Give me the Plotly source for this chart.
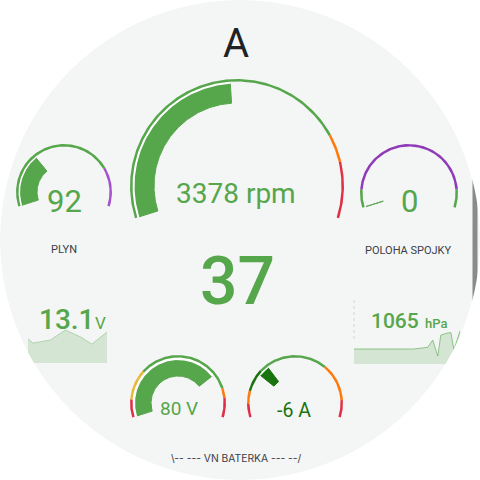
import numpy as np
import plotly.graph_objects as go

GREEN = "#56A64B"
DARK_GREEN = "#19730E"
ORANGE = "#FF780A"
RED = "#E02F44"
YELLOW = "#EAB839"
PURPLE = "#A352CC"
DARK_PURPLE = "#8F3BB8"
TEXT = "#202226"
LABEL = "#3b4048"

# ---------------- data ----------------
title_text = "A"
speed_value = 37

rpm_value = 3378
rpm_range = [0, 7000]
rpm_steps = [0, 5500, 6000]
rpm_colors = [GREEN, ORANGE, RED]

throttle_label = "PLYN"
throttle_value = 92
throttle_range = [0, 290]
throttle_steps = [0, 225]
throttle_colors = [GREEN, PURPLE]

clutch_label = "POLOHA SPOJKY"
clutch_value = 0
clutch_range = [0, 100]
clutch_steps = [0, 10, 90]
clutch_colors = [GREEN, DARK_PURPLE, GREEN]

hv_label = "\\-- --- VN BATERKA --- --/"
hv_voltage_value = 80
hv_voltage_range = [0, 108]
hv_voltage_steps = [0, 11, 30, 90, 96]
hv_voltage_colors = [RED, YELLOW, GREEN, ORANGE, RED]

hv_current_value = -6
hv_current_range = [-30, 62]
hv_current_steps = [-30, -23, -16, -4, 33, 53]
hv_current_colors = [RED, ORANGE, DARK_GREEN, GREEN, ORANGE, RED]

lv_time = [0, 5, 22, 37, 52, 63, 78]
lv_voltage = [13.03, 12.99, 13.02, 13.12, 13.05, 12.98, 13.10]
lv_value_text = "13.1"

pressure_time = [0, 15, 30, 45, 59, 73, 78, 83, 86, 92, 96, 99, 105]
pressure = [1000, 1000, 1000, 1000, 1000, 1006, 1032, 975, 1050, 1057, 1059, 996, 1065]

# ---------------- geometry ----------------
START = 197.5
SWEEP = 215.0


def ang(v, lo, hi):
    return START - (v - lo) / (hi - lo) * SWEEP


def band(cx, cy, r0, r1, a0, a1):
    n = max(2, int(abs(a1 - a0) * 2) + 2)
    t = np.radians(np.linspace(a0, a1, n))
    xo = cx + r1 * np.cos(t)
    yo = cy - r1 * np.sin(t)
    xi = cx + r0 * np.cos(t[::-1])
    yi = cy - r0 * np.sin(t[::-1])
    return np.concatenate([xo, xi, xo[:1]]), np.concatenate([yo, yi, yo[:1]])


fig = go.Figure()


def add_poly(xs, ys, color, lw=0):
    fig.add_trace(go.Scatter(x=xs, y=ys, mode="lines", fill="toself",
                             fillcolor=color, line=dict(color=color, width=lw),
                             hoverinfo="skip", showlegend=False))


# scrollbar-like strip at the right edge of the face
add_poly([472.5, 477.5, 477.5, 472.5, 472.5], [150, 150, 330, 330, 150], "#8a8a8a")


def gauge(value, rng, steps, colors, cx, cy, bar_in, bar_out, arc_in, arc_out):
    lo, hi = rng
    base = 0 if lo < 0 < hi else lo
    idx = max(i for i, s in enumerate(steps) if value >= s)
    vcol = colors[idx]
    a0, a1 = ang(base, lo, hi), ang(value, lo, hi)
    xs, ys = band(cx, cy, bar_in, bar_out, a0, a1)
    add_poly(xs, ys, vcol, lw=1)
    if abs(a1 - a0) > 0.5:
        xs, ys = band(cx, cy, bar_out, arc_in, a0, a1)
        add_poly(xs, ys, "#ffffff")
    edges = steps[1:] + [hi]
    for s, e, c in zip(steps, edges, colors):
        xs, ys = band(cx, cy, arc_in, arc_out, ang(s, lo, hi), ang(e, lo, hi))
        add_poly(xs, ys, c)
    return vcol


gauge(rpm_value, rpm_range, rpm_steps, rpm_colors, 237, 186, 83, 102.5, 104.5, 107)
gauge(throttle_value, throttle_range, throttle_steps, throttle_colors, 64, 192, 27, 44, 45.5, 48)
gauge(clutch_value, clutch_range, clutch_steps, clutch_colors, 409, 193, 27, 45, 46.5, 49)
gauge(hv_voltage_value, hv_voltage_range, hv_voltage_steps, hv_voltage_colors, 178, 403, 27, 43, 45.5, 48)
cur_col = gauge(hv_current_value, hv_current_range, hv_current_steps, hv_current_colors, 295, 403, 27, 44, 45.5, 48)

# sparklines
fig.add_trace(go.Scatter(x=lv_time, y=lv_voltage, mode="lines", fill="tozeroy",
                         fillcolor="rgba(86,166,75,0.2)",
                         line=dict(color="rgba(86,166,75,0.35)", width=1),
                         xaxis="x2", yaxis="y2", hoverinfo="skip", showlegend=False))
fig.add_trace(go.Scatter(x=pressure_time, y=pressure, mode="lines", fill="tozeroy",
                         fillcolor="rgba(86,166,75,0.2)",
                         line=dict(color="rgba(86,166,75,0.6)", width=1),
                         xaxis="x3", yaxis="y3", hoverinfo="skip", showlegend=False))

# mask outside the round face
t = np.linspace(0, 2 * np.pi, 721)
circ = " ".join(f"L{240 + 240 * np.cos(a):.2f},{240 + 240 * np.sin(a):.2f}" for a in t[1:])
mask_path = "M0,0 L480,0 L480,480 L0,480 Z M480,240 " + circ + " Z"

shapes = [
    dict(type="circle", xref="x", yref="y", x0=0, y0=0, x1=480, y1=480,
         fillcolor="#f4f5f5", line=dict(width=0), layer="below"),
    dict(type="line", xref="x", yref="y", x0=354, x1=354, y0=300, y1=340,
         line=dict(color="#d2d4d6", width=1, dash="dot"), layer="below"),
    dict(type="path", xref="x", yref="y", path=mask_path, fillcolor="#ffffff",
         fillrule="evenodd", line=dict(width=0), layer="above"),
]

F = "Roboto"


def txt(x, y, s, size, color, weight=400, family=F):
    return dict(x=x, y=y, xref="x", yref="y", text=s, showarrow=False,
                xanchor="center", yanchor="middle",
                font=dict(family=family, size=size, color=color, weight=weight))


annotations = [
    txt(236, 43, title_text, 40, TEXT),
    txt(236, 193, f"{rpm_value} rpm", 28, GREEN),
    txt(64, 201, f"{throttle_value}", 31, GREEN),
    txt(409.5, 201.5, f"{clutch_value}", 31, GREEN),
    txt(64, 249, throttle_label, 11, LABEL),
    txt(408, 250.5, clutch_label, 11, LABEL),
    txt(237.5, 281.5, f"{speed_value}", 66, GREEN, 500),
    txt(66.5, 319, lv_value_text, 28, GREEN, 500),
    txt(100.5, 323, "V", 17, GREEN, 400),
    txt(395, 320.5, f"{pressure[-1]}", 21, GREEN, 500),
    txt(435.5, 323, "hPa", 13, GREEN, 500),
    txt(179, 408.5, f"{hv_voltage_value} V", 19, GREEN),
    txt(294, 410, f"{hv_current_value} A", 19.5, cur_col),
    txt(236, 457.5, hv_label, 10.3, LABEL, 400, "Inter"),
]

ax_off = dict(visible=False, showgrid=False, zeroline=False, fixedrange=True)
fig.update_layout(
    width=480, height=480, margin=dict(l=0, r=0, t=0, b=0),
    paper_bgcolor="#ffffff", plot_bgcolor="rgba(0,0,0,0)",
    xaxis=dict(range=[0, 480], domain=[0, 1], **ax_off),
    yaxis=dict(range=[480, 0], domain=[0, 1], **ax_off),
    xaxis2=dict(range=[0, 78], domain=[28 / 480, 107 / 480], anchor="y2", **ax_off),
    yaxis2=dict(range=[12.79, 13.42], domain=[1 - 363 / 480, 1 - 300 / 480], anchor="x2", **ax_off),
    xaxis3=dict(range=[0, 105], domain=[354 / 480, 460 / 480], anchor="y3", **ax_off),
    yaxis3=dict(range=[946, 1176.4], domain=[1 - 364 / 480, 1 - 300 / 480], anchor="x3", **ax_off),
    shapes=shapes, annotations=annotations, showlegend=False,
)

fig.write_html(
    "out.html",
    config={"displayModeBar": False, "staticPlot": True},
    post_script="document.body.style.margin='0';document.body.style.padding='0';"
                "document.body.style.overflow='hidden';",
)
